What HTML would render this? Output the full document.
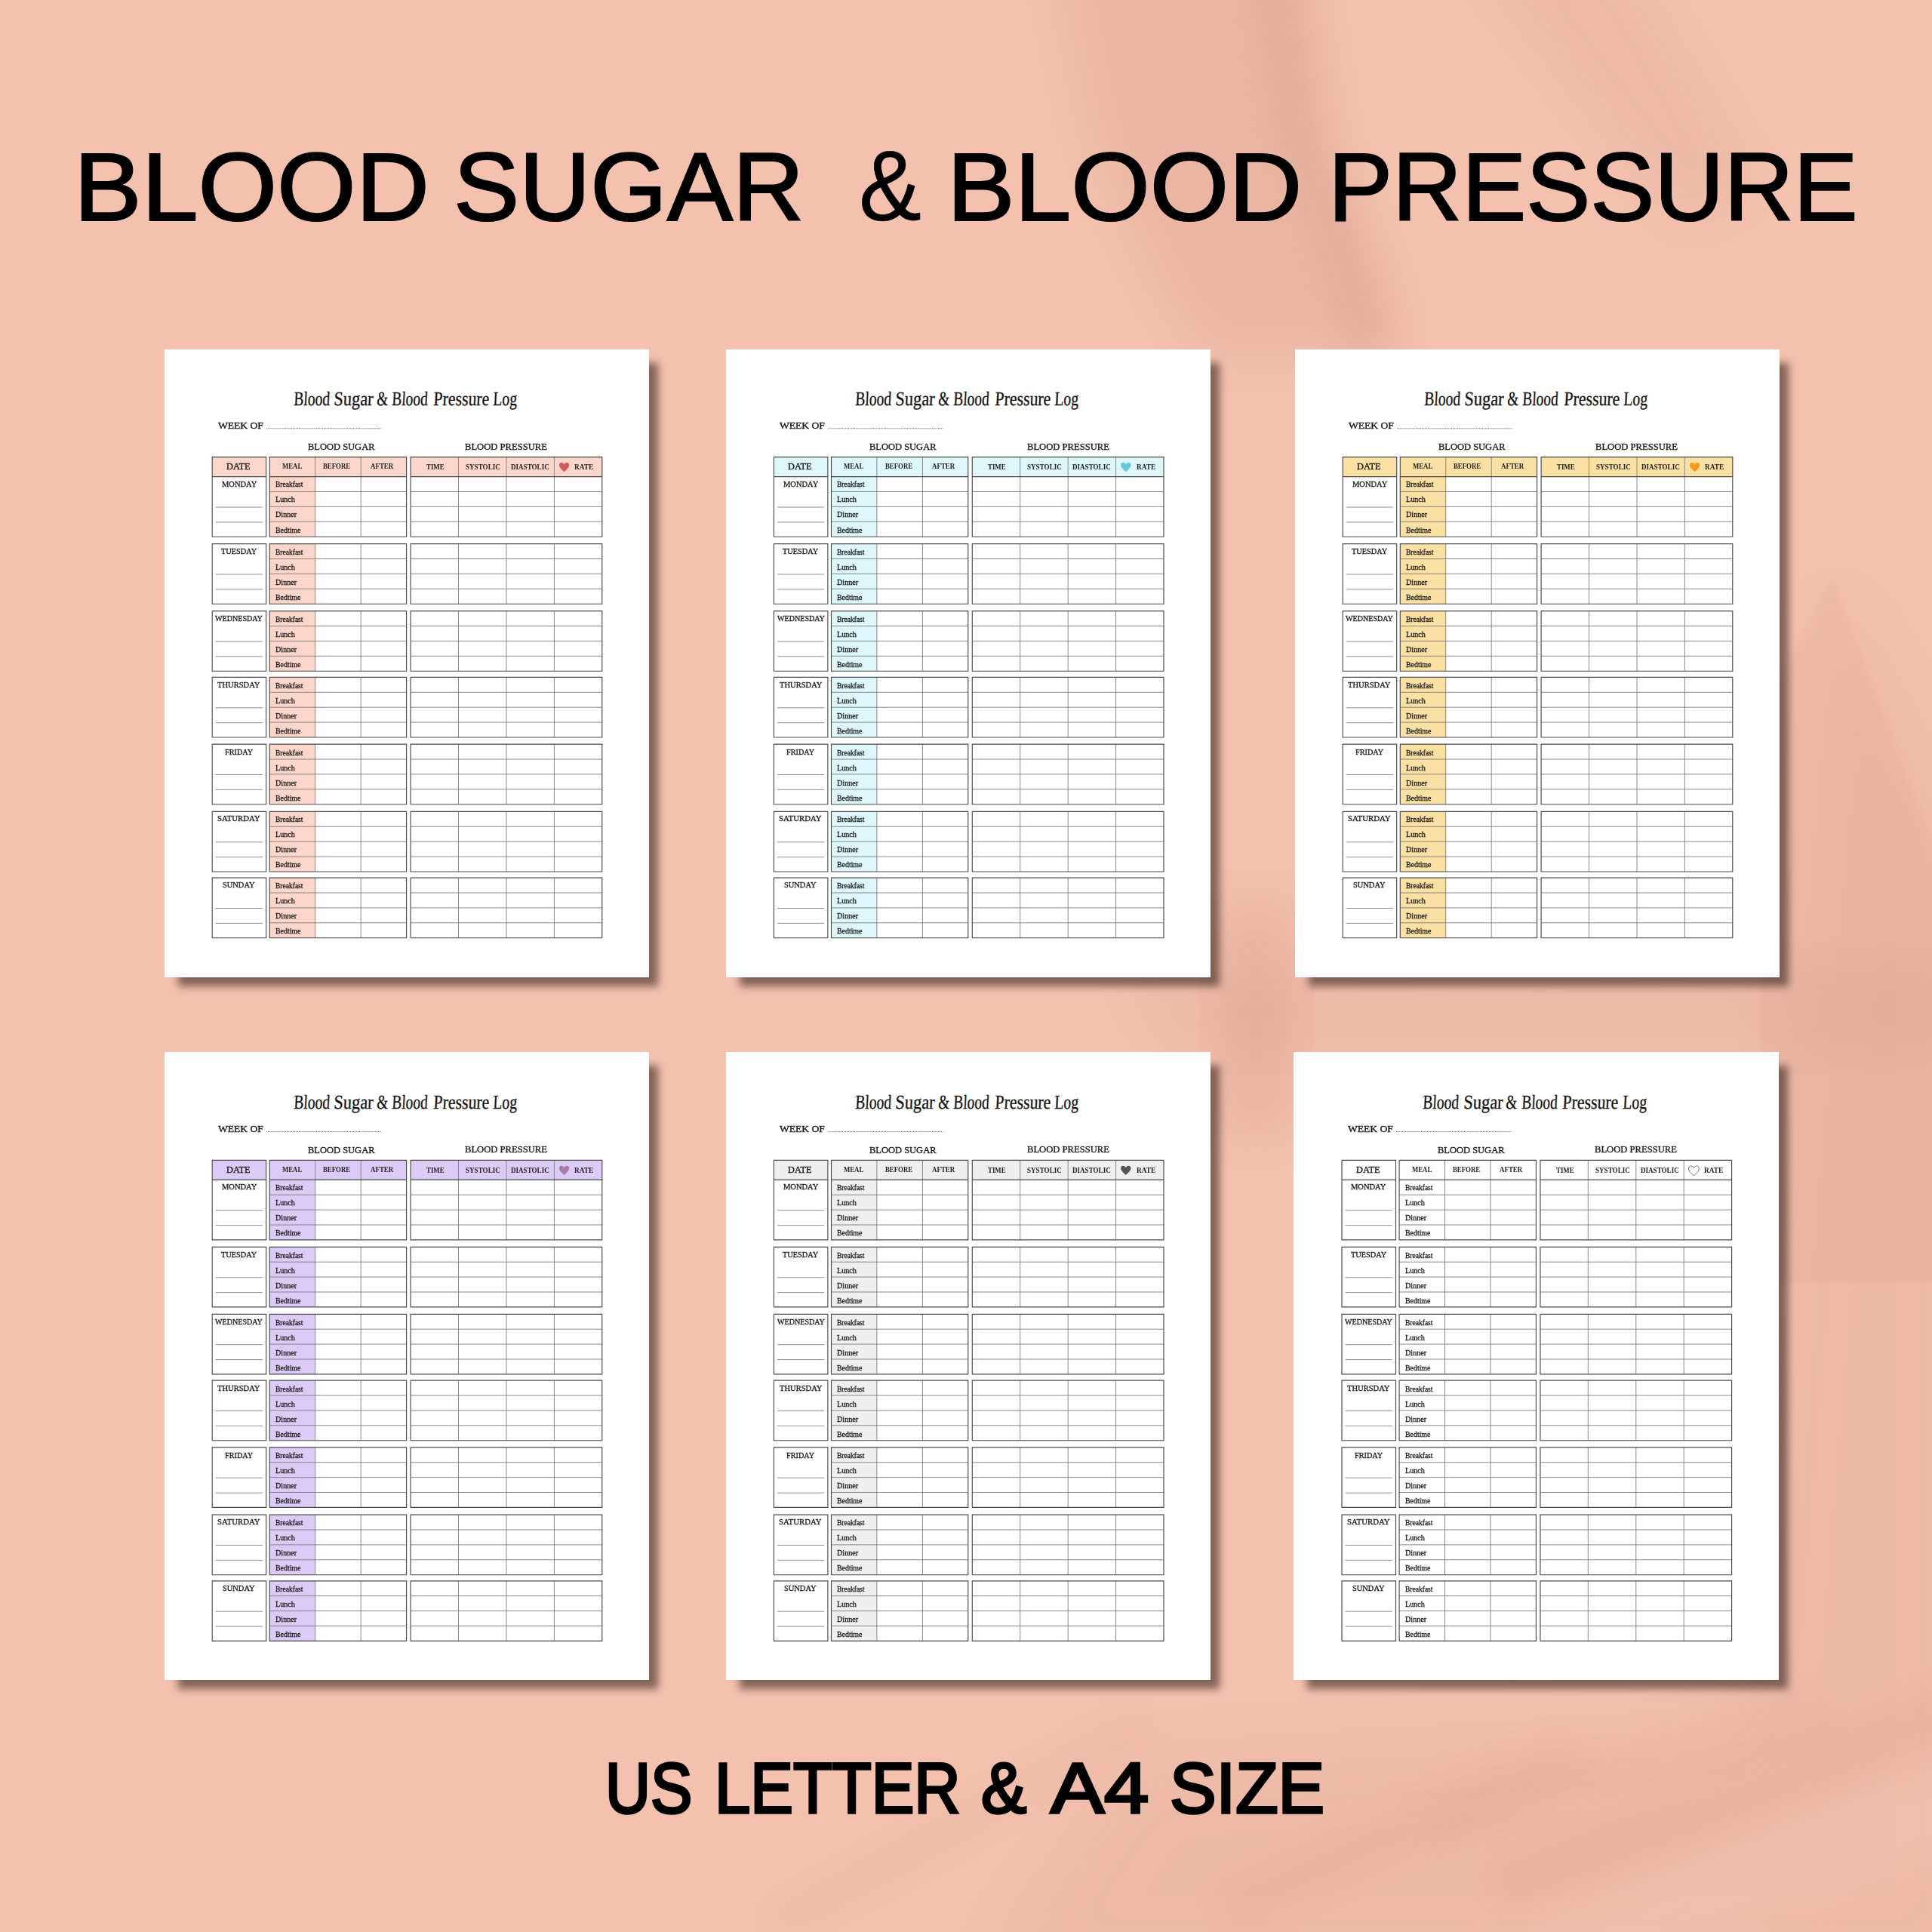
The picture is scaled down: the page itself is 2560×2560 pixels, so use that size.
<!DOCTYPE html><html><head><meta charset="utf-8"><title>Blood Sugar &amp; Blood Pressure Log</title><style>
html,body{margin:0;padding:0}
body{width:2560px;height:2560px;position:relative;overflow:hidden;background:#f4c1af;font-family:"Liberation Serif",serif}
.t{position:absolute;white-space:pre;line-height:1;transform-origin:0 0;color:#1a1a1a;font-family:"Liberation Serif",serif}
.big{font-family:"Liberation Sans",sans-serif;color:#000}
.page{position:absolute;width:642px;height:832px;background:#fff;overflow:visible;box-shadow:14.5px 14.5px 10px -3px rgba(20,5,0,.5)}
.pg{position:absolute;left:0;top:0}
.ti{color:#111}
.h{color:#222}

</style></head><body>
<svg class="bg" width="2560" height="2560" viewBox="0 0 2560 2560" style="position:absolute;left:0;top:0">
<defs><filter id="b1" x="-20%" y="-20%" width="140%" height="140%"><feGaussianBlur stdDeviation="32"/></filter>
<filter id="b2" x="-20%" y="-20%" width="140%" height="140%"><feGaussianBlur stdDeviation="45"/></filter>
<filter id="b4" x="-20%" y="-20%" width="140%" height="140%"><feGaussianBlur stdDeviation="5"/></filter>
<filter id="b3" x="-20%" y="-20%" width="140%" height="140%"><feGaussianBlur stdDeviation="20"/></filter></defs>
<g fill="#8a4632">
<path filter="url(#b1)" opacity=".085" d="M1400 -60L1725 -60L1760 186L1830 373L1850 470L1600 470L1535 373L1450 186Z"/>
<path filter="url(#b3)" opacity=".075" d="M1650 -60L1725 -60L1760 186L1830 373L1850 470L1780 470L1760 373L1690 186Z"/>
<path filter="url(#b1)" opacity=".06" d="M1950 -60L2150 -60L2330 250L2230 300Z"/>
<path filter="url(#b4)" opacity=".045" d="M2427 764L2600 1223L2600 1700L2330 1700L2330 960Z"/>
<path filter="url(#b2)" opacity=".06" d="M2425 760L2620 1140L2620 2620L1300 2620L1500 2330L2300 2280L2380 1300Z"/>
<path filter="url(#b1)" opacity=".05" d="M1480 1290L2600 1270L2600 1400L1560 1400Z"/>
<path filter="url(#b1)" opacity=".10" d="M1610 1200L1720 1200L1720 1500L1610 1500Z"/>
<path filter="url(#b3)" opacity=".05" d="M2600 2225L2600 2300L2000 2530L1960 2475Z"/>
<path filter="url(#b3)" opacity=".035" d="M2400 2235L2440 2290L1900 2450L1880 2400Z"/>
<path filter="url(#b3)" opacity=".04" d="M2070 2290L2110 2345L1640 2560L1600 2505Z"/>
<path filter="url(#b3)" opacity=".035" d="M1500 2260L1540 2300L1060 2560L1000 2540Z"/>
</g>
<g fill="#fbd2c3">
<path filter="url(#b1)" opacity=".25" d="M2620 2330L2620 2430L2100 2620L1900 2620Z"/>
</g>
</svg>
<span class="t big" style="left:97.74px;top:182.55px;font-size:128.7px;transform:scaleX(1.0450);-webkit-text-stroke:2.2px;">BLOOD</span>
<span class="t big" style="left:601.22px;top:182.55px;font-size:128.7px;transform:scaleX(1.0145);-webkit-text-stroke:2.2px;">SUGAR</span>
<span class="t big" style="left:1137.55px;top:181.39px;font-size:131.01px;transform:scaleX(0.9482);-webkit-text-stroke:0.6px;">&amp;</span>
<span class="t big" style="left:1255.15px;top:182.55px;font-size:128.7px;transform:scaleX(1.0441);-webkit-text-stroke:2.2px;">BLOOD</span>
<span class="t big" style="left:1760.1px;top:182.55px;font-size:128.7px;transform:scaleX(0.9909);-webkit-text-stroke:2.2px;">PRESSURE</span>
<span class="t big" style="left:801.68px;top:2321.61px;font-size:94.78px;transform:scaleX(0.8749);-webkit-text-stroke:3.6px;">US</span>
<span class="t big" style="left:946.5px;top:2321.61px;font-size:94.78px;transform:scaleX(0.8964);-webkit-text-stroke:3.6px;">LETTER</span>
<span class="t big" style="left:1300.44px;top:2321.61px;font-size:94.78px;transform:scaleX(0.9538);-webkit-text-stroke:3.6px;">&amp;</span>
<span class="t big" style="left:1391.6px;top:2321.61px;font-size:94.78px;transform:scaleX(1.1251);-webkit-text-stroke:3.6px;">A4</span>
<span class="t big" style="left:1550.25px;top:2321.61px;font-size:94.78px;transform:scaleX(0.9735);-webkit-text-stroke:3.6px;">SIZE</span>
<div class="page" style="left:218px;top:463px">
<svg class="pg" width="642" height="832" viewBox="0 0 642 832"><g transform="translate(-0.5 0)"><g fill="#fcd6cb"><rect x="63.7" y="142.6" width="71.5" height="26"/><rect x="139.8" y="142.6" width="181.3" height="26"/><rect x="326.6" y="142.6" width="253.7" height="26"/><rect x="139.8" y="168.6" width="60.4" height="79.6"/><rect x="139.8" y="257.6" width="60.4" height="79.6"/><rect x="139.8" y="346.6" width="60.4" height="79.6"/><rect x="139.8" y="434.4" width="60.4" height="79.6"/><rect x="139.8" y="523.1" width="60.4" height="79.6"/><rect x="139.8" y="612.4" width="60.4" height="79.6"/><rect x="139.8" y="700.1" width="60.4" height="79.6"/></g><path d="M139.8 188.5H321.1M326.6 188.5H580.3M139.8 208.4H321.1M326.6 208.4H580.3M139.8 228.3H321.1M326.6 228.3H580.3M200.2 142.6V248.2M260.7 142.6V248.2M390 142.6V248.2M453.5 142.6V248.2M516.9 142.6V248.2M139.8 277.5H321.1M326.6 277.5H580.3M139.8 297.4H321.1M326.6 297.4H580.3M139.8 317.3H321.1M326.6 317.3H580.3M200.2 257.6V337.2M260.7 257.6V337.2M390 257.6V337.2M453.5 257.6V337.2M516.9 257.6V337.2M139.8 366.5H321.1M326.6 366.5H580.3M139.8 386.4H321.1M326.6 386.4H580.3M139.8 406.3H321.1M326.6 406.3H580.3M200.2 346.6V426.2M260.7 346.6V426.2M390 346.6V426.2M453.5 346.6V426.2M516.9 346.6V426.2M139.8 454.3H321.1M326.6 454.3H580.3M139.8 474.2H321.1M326.6 474.2H580.3M139.8 494.1H321.1M326.6 494.1H580.3M200.2 434.4V514M260.7 434.4V514M390 434.4V514M453.5 434.4V514M516.9 434.4V514M139.8 543H321.1M326.6 543H580.3M139.8 562.9H321.1M326.6 562.9H580.3M139.8 582.8H321.1M326.6 582.8H580.3M200.2 523.1V602.7M260.7 523.1V602.7M390 523.1V602.7M453.5 523.1V602.7M516.9 523.1V602.7M139.8 632.3H321.1M326.6 632.3H580.3M139.8 652.2H321.1M326.6 652.2H580.3M139.8 672.1H321.1M326.6 672.1H580.3M200.2 612.4V692M260.7 612.4V692M390 612.4V692M453.5 612.4V692M516.9 612.4V692M139.8 720H321.1M326.6 720H580.3M139.8 739.9H321.1M326.6 739.9H580.3M139.8 759.8H321.1M326.6 759.8H580.3M200.2 700.1V779.7M260.7 700.1V779.7M390 700.1V779.7M453.5 700.1V779.7M516.9 700.1V779.7" stroke="#7d7d7d" stroke-width="0.9" fill="none"/><path d="M68.2 209H130.6M68.2 228.9H130.6M68.2 298H130.6M68.2 317.9H130.6M68.2 387H130.6M68.2 406.9H130.6M68.2 474.8H130.6M68.2 494.7H130.6M68.2 563.5H130.6M68.2 583.4H130.6M68.2 652.8H130.6M68.2 672.7H130.6M68.2 740.5H130.6M68.2 760.4H130.6" stroke="#858585" stroke-width="0.9" fill="none"/><path d="M63.7 142.6H135.2V248.2H63.7ZM63.7 168.6H135.2M139.8 142.6H321.1V248.2H139.8ZM139.8 168.6H321.1M326.6 142.6H580.3V248.2H326.6ZM326.6 168.6H580.3M63.7 257.6H135.2V337.2H63.7ZM139.8 257.6H321.1V337.2H139.8ZM326.6 257.6H580.3V337.2H326.6ZM63.7 346.6H135.2V426.2H63.7ZM139.8 346.6H321.1V426.2H139.8ZM326.6 346.6H580.3V426.2H326.6ZM63.7 434.4H135.2V514H63.7ZM139.8 434.4H321.1V514H139.8ZM326.6 434.4H580.3V514H326.6ZM63.7 523.1H135.2V602.7H63.7ZM139.8 523.1H321.1V602.7H139.8ZM326.6 523.1H580.3V602.7H326.6ZM63.7 612.4H135.2V692H63.7ZM139.8 612.4H321.1V692H139.8ZM326.6 612.4H580.3V692H326.6ZM63.7 700.1H135.2V779.7H63.7ZM139.8 700.1H321.1V779.7H139.8ZM326.6 700.1H580.3V779.7H326.6Z" stroke="#4a4a4a" stroke-width="1.15" fill="none"/><path d="M135.7 104.8H288" stroke="#555" stroke-width="1" stroke-dasharray="1 1.05" fill="none"/><path transform="translate(530.1 156.2)" d="M0 -3.6C-.95 -5.5 -2.5 -6.15 -3.8 -6.15C-5.6 -6.15 -6.65 -4.7 -6.65 -2.95C-6.65 .7 -2.5 3.2 0 6.15C2.5 3.2 6.65 .7 6.65 -2.95C6.65 -4.7 5.6 -6.15 3.8 -6.15C2.5 -6.15 .95 -5.5 0 -3.6Z" fill="#d2595c"/></g></svg>
<span class="t ti" style="left:170.66px;top:53.05px;font-size:26.11px;transform:skewX(-3deg) scaleX(0.7486);transform-origin:0 21.8px;-webkit-text-stroke:0.3px;">Blood</span><span class="t ti" style="left:224.09px;top:53.05px;font-size:26.11px;transform:skewX(-3deg) scaleX(0.8576);transform-origin:0 21.8px;-webkit-text-stroke:0.3px;">Sugar</span><span class="t ti" style="left:280.69px;top:53.05px;font-size:26.11px;transform:skewX(-3deg) scaleX(0.7288);transform-origin:0 21.8px;-webkit-text-stroke:0.3px;">&amp;</span><span class="t ti" style="left:301.17px;top:53.05px;font-size:26.11px;transform:skewX(-3deg) scaleX(0.7422);transform-origin:0 21.8px;-webkit-text-stroke:0.3px;">Blood</span><span class="t ti" style="left:355.59px;top:53.05px;font-size:26.11px;transform:skewX(-3deg) scaleX(0.8364);transform-origin:0 21.8px;-webkit-text-stroke:0.3px;">Pressure</span><span class="t ti" style="left:434.86px;top:53.05px;font-size:26.11px;transform:skewX(-3deg) scaleX(0.7563);transform-origin:0 21.8px;-webkit-text-stroke:0.3px;">Log</span><span class="t b" style="left:71.08px;top:94.99px;font-size:12.14px;transform:scaleX(1.1183);-webkit-text-stroke:0.35px;">WEEK OF</span><span class="t b" style="left:190.1px;top:122.88px;font-size:12.75px;transform:scaleX(0.9797);-webkit-text-stroke:0.35px;">BLOOD SUGAR</span><span class="t b" style="left:398.4px;top:122.58px;font-size:12.75px;transform:scaleX(0.9892);-webkit-text-stroke:0.35px;">BLOOD PRESSURE</span><span class="t b" style="left:82.11px;top:150.3px;font-size:11.53px;transform:scaleX(1.0673);-webkit-text-stroke:0.35px;">DATE</span><span class="t h" style="left:156.07px;top:150.01px;font-size:9.92px;font-weight:700;transform:scaleX(0.8828);">MEAL</span><span class="t h" style="left:210.37px;top:150.01px;font-size:9.92px;font-weight:700;transform:scaleX(0.8869);">BEFORE</span><span class="t h" style="left:272.61px;top:150.01px;font-size:9.92px;font-weight:700;transform:scaleX(0.9020);">AFTER</span><span class="t h" style="left:346.87px;top:150.81px;font-size:9.92px;font-weight:700;transform:scaleX(0.8914);">TIME</span><span class="t h" style="left:398.9px;top:150.81px;font-size:9.92px;font-weight:700;transform:scaleX(0.9174);">SYSTOLIC</span><span class="t h" style="left:458.86px;top:150.81px;font-size:9.92px;font-weight:700;transform:scaleX(0.9153);">DIASTOLIC</span><span class="t h" style="left:543.36px;top:150.81px;font-size:9.92px;font-weight:700;transform:scaleX(0.9446);">RATE</span><span class="t d" style="left:75.53px;top:172.75px;font-size:10.84px;transform:scaleX(0.9692);-webkit-text-stroke:0.3px;">MONDAY</span><span class="t m" style="left:147.06px;top:173.38px;font-size:10.69px;transform:scaleX(0.8901);-webkit-text-stroke:0.3px;">Breakfast</span><span class="t m" style="left:147.05px;top:193.43px;font-size:10.69px;transform:scaleX(0.9506);-webkit-text-stroke:0.3px;">Lunch</span><span class="t m" style="left:147.05px;top:213.48px;font-size:10.69px;transform:scaleX(0.9494);-webkit-text-stroke:0.3px;">Dinner</span><span class="t m" style="left:147.05px;top:233.53px;font-size:10.69px;transform:scaleX(0.9231);-webkit-text-stroke:0.3px;">Bedtime</span><span class="t d" style="left:75.14px;top:262.35px;font-size:10.84px;transform:scaleX(0.9510);-webkit-text-stroke:0.3px;">TUESDAY</span><span class="t m" style="left:147.06px;top:262.98px;font-size:10.69px;transform:scaleX(0.8901);-webkit-text-stroke:0.3px;">Breakfast</span><span class="t m" style="left:147.05px;top:283.03px;font-size:10.69px;transform:scaleX(0.9506);-webkit-text-stroke:0.3px;">Lunch</span><span class="t m" style="left:147.05px;top:303.08px;font-size:10.69px;transform:scaleX(0.9494);-webkit-text-stroke:0.3px;">Dinner</span><span class="t m" style="left:147.05px;top:323.13px;font-size:10.69px;transform:scaleX(0.9231);-webkit-text-stroke:0.3px;">Bedtime</span><span class="t d" style="left:67.35px;top:351.25px;font-size:10.84px;transform:scaleX(0.9307);-webkit-text-stroke:0.3px;">WEDNESDAY</span><span class="t m" style="left:147.06px;top:351.88px;font-size:10.69px;transform:scaleX(0.8901);-webkit-text-stroke:0.3px;">Breakfast</span><span class="t m" style="left:147.05px;top:371.93px;font-size:10.69px;transform:scaleX(0.9506);-webkit-text-stroke:0.3px;">Lunch</span><span class="t m" style="left:147.05px;top:391.98px;font-size:10.69px;transform:scaleX(0.9494);-webkit-text-stroke:0.3px;">Dinner</span><span class="t m" style="left:147.05px;top:412.03px;font-size:10.69px;transform:scaleX(0.9231);-webkit-text-stroke:0.3px;">Bedtime</span><span class="t d" style="left:70.49px;top:439.35px;font-size:10.84px;transform:scaleX(0.9738);-webkit-text-stroke:0.3px;">THURSDAY</span><span class="t m" style="left:147.06px;top:439.98px;font-size:10.69px;transform:scaleX(0.8901);-webkit-text-stroke:0.3px;">Breakfast</span><span class="t m" style="left:147.05px;top:460.03px;font-size:10.69px;transform:scaleX(0.9506);-webkit-text-stroke:0.3px;">Lunch</span><span class="t m" style="left:147.05px;top:480.08px;font-size:10.69px;transform:scaleX(0.9494);-webkit-text-stroke:0.3px;">Dinner</span><span class="t m" style="left:147.05px;top:500.13px;font-size:10.69px;transform:scaleX(0.9231);-webkit-text-stroke:0.3px;">Bedtime</span><span class="t d" style="left:80.09px;top:527.95px;font-size:10.84px;transform:scaleX(0.9445);-webkit-text-stroke:0.3px;">FRIDAY</span><span class="t m" style="left:147.06px;top:528.58px;font-size:10.69px;transform:scaleX(0.8901);-webkit-text-stroke:0.3px;">Breakfast</span><span class="t m" style="left:147.05px;top:548.63px;font-size:10.69px;transform:scaleX(0.9506);-webkit-text-stroke:0.3px;">Lunch</span><span class="t m" style="left:147.05px;top:568.68px;font-size:10.69px;transform:scaleX(0.9494);-webkit-text-stroke:0.3px;">Dinner</span><span class="t m" style="left:147.05px;top:588.73px;font-size:10.69px;transform:scaleX(0.9231);-webkit-text-stroke:0.3px;">Bedtime</span><span class="t d" style="left:70.2px;top:616.35px;font-size:10.84px;transform:scaleX(0.9960);-webkit-text-stroke:0.3px;">SATURDAY</span><span class="t m" style="left:147.06px;top:616.98px;font-size:10.69px;transform:scaleX(0.8901);-webkit-text-stroke:0.3px;">Breakfast</span><span class="t m" style="left:147.05px;top:637.03px;font-size:10.69px;transform:scaleX(0.9506);-webkit-text-stroke:0.3px;">Lunch</span><span class="t m" style="left:147.05px;top:657.08px;font-size:10.69px;transform:scaleX(0.9494);-webkit-text-stroke:0.3px;">Dinner</span><span class="t m" style="left:147.05px;top:677.13px;font-size:10.69px;transform:scaleX(0.9231);-webkit-text-stroke:0.3px;">Bedtime</span><span class="t d" style="left:77.22px;top:704.35px;font-size:10.84px;transform:scaleX(0.9630);-webkit-text-stroke:0.3px;">SUNDAY</span><span class="t m" style="left:147.06px;top:704.98px;font-size:10.69px;transform:scaleX(0.8901);-webkit-text-stroke:0.3px;">Breakfast</span><span class="t m" style="left:147.05px;top:725.03px;font-size:10.69px;transform:scaleX(0.9506);-webkit-text-stroke:0.3px;">Lunch</span><span class="t m" style="left:147.05px;top:745.08px;font-size:10.69px;transform:scaleX(0.9494);-webkit-text-stroke:0.3px;">Dinner</span><span class="t m" style="left:147.05px;top:765.13px;font-size:10.69px;transform:scaleX(0.9231);-webkit-text-stroke:0.3px;">Bedtime</span>
</div>
<div class="page" style="left:962px;top:463px">
<svg class="pg" width="642" height="832" viewBox="0 0 642 832"><g transform="translate(-0.3 0)"><g fill="#ddf7fb"><rect x="63.7" y="142.6" width="71.5" height="26"/><rect x="139.8" y="142.6" width="181.3" height="26"/><rect x="326.6" y="142.6" width="253.7" height="26"/><rect x="139.8" y="168.6" width="60.4" height="79.6"/><rect x="139.8" y="257.6" width="60.4" height="79.6"/><rect x="139.8" y="346.6" width="60.4" height="79.6"/><rect x="139.8" y="434.4" width="60.4" height="79.6"/><rect x="139.8" y="523.1" width="60.4" height="79.6"/><rect x="139.8" y="612.4" width="60.4" height="79.6"/><rect x="139.8" y="700.1" width="60.4" height="79.6"/></g><path d="M139.8 188.5H321.1M326.6 188.5H580.3M139.8 208.4H321.1M326.6 208.4H580.3M139.8 228.3H321.1M326.6 228.3H580.3M200.2 142.6V248.2M260.7 142.6V248.2M390 142.6V248.2M453.5 142.6V248.2M516.9 142.6V248.2M139.8 277.5H321.1M326.6 277.5H580.3M139.8 297.4H321.1M326.6 297.4H580.3M139.8 317.3H321.1M326.6 317.3H580.3M200.2 257.6V337.2M260.7 257.6V337.2M390 257.6V337.2M453.5 257.6V337.2M516.9 257.6V337.2M139.8 366.5H321.1M326.6 366.5H580.3M139.8 386.4H321.1M326.6 386.4H580.3M139.8 406.3H321.1M326.6 406.3H580.3M200.2 346.6V426.2M260.7 346.6V426.2M390 346.6V426.2M453.5 346.6V426.2M516.9 346.6V426.2M139.8 454.3H321.1M326.6 454.3H580.3M139.8 474.2H321.1M326.6 474.2H580.3M139.8 494.1H321.1M326.6 494.1H580.3M200.2 434.4V514M260.7 434.4V514M390 434.4V514M453.5 434.4V514M516.9 434.4V514M139.8 543H321.1M326.6 543H580.3M139.8 562.9H321.1M326.6 562.9H580.3M139.8 582.8H321.1M326.6 582.8H580.3M200.2 523.1V602.7M260.7 523.1V602.7M390 523.1V602.7M453.5 523.1V602.7M516.9 523.1V602.7M139.8 632.3H321.1M326.6 632.3H580.3M139.8 652.2H321.1M326.6 652.2H580.3M139.8 672.1H321.1M326.6 672.1H580.3M200.2 612.4V692M260.7 612.4V692M390 612.4V692M453.5 612.4V692M516.9 612.4V692M139.8 720H321.1M326.6 720H580.3M139.8 739.9H321.1M326.6 739.9H580.3M139.8 759.8H321.1M326.6 759.8H580.3M200.2 700.1V779.7M260.7 700.1V779.7M390 700.1V779.7M453.5 700.1V779.7M516.9 700.1V779.7" stroke="#7d7d7d" stroke-width="0.9" fill="none"/><path d="M68.2 209H130.6M68.2 228.9H130.6M68.2 298H130.6M68.2 317.9H130.6M68.2 387H130.6M68.2 406.9H130.6M68.2 474.8H130.6M68.2 494.7H130.6M68.2 563.5H130.6M68.2 583.4H130.6M68.2 652.8H130.6M68.2 672.7H130.6M68.2 740.5H130.6M68.2 760.4H130.6" stroke="#858585" stroke-width="0.9" fill="none"/><path d="M63.7 142.6H135.2V248.2H63.7ZM63.7 168.6H135.2M139.8 142.6H321.1V248.2H139.8ZM139.8 168.6H321.1M326.6 142.6H580.3V248.2H326.6ZM326.6 168.6H580.3M63.7 257.6H135.2V337.2H63.7ZM139.8 257.6H321.1V337.2H139.8ZM326.6 257.6H580.3V337.2H326.6ZM63.7 346.6H135.2V426.2H63.7ZM139.8 346.6H321.1V426.2H139.8ZM326.6 346.6H580.3V426.2H326.6ZM63.7 434.4H135.2V514H63.7ZM139.8 434.4H321.1V514H139.8ZM326.6 434.4H580.3V514H326.6ZM63.7 523.1H135.2V602.7H63.7ZM139.8 523.1H321.1V602.7H139.8ZM326.6 523.1H580.3V602.7H326.6ZM63.7 612.4H135.2V692H63.7ZM139.8 612.4H321.1V692H139.8ZM326.6 612.4H580.3V692H326.6ZM63.7 700.1H135.2V779.7H63.7ZM139.8 700.1H321.1V779.7H139.8ZM326.6 700.1H580.3V779.7H326.6Z" stroke="#4a4a4a" stroke-width="1.15" fill="none"/><path d="M135.7 104.8H288" stroke="#555" stroke-width="1" stroke-dasharray="1 1.05" fill="none"/><path transform="translate(530.1 156.2)" d="M0 -3.6C-.95 -5.5 -2.5 -6.15 -3.8 -6.15C-5.6 -6.15 -6.65 -4.7 -6.65 -2.95C-6.65 .7 -2.5 3.2 0 6.15C2.5 3.2 6.65 .7 6.65 -2.95C6.65 -4.7 5.6 -6.15 3.8 -6.15C2.5 -6.15 .95 -5.5 0 -3.6Z" fill="#66c6da"/></g></svg>
<span class="t ti" style="left:170.86px;top:53.05px;font-size:26.11px;transform:skewX(-3deg) scaleX(0.7486);transform-origin:0 21.8px;-webkit-text-stroke:0.3px;">Blood</span><span class="t ti" style="left:224.29px;top:53.05px;font-size:26.11px;transform:skewX(-3deg) scaleX(0.8576);transform-origin:0 21.8px;-webkit-text-stroke:0.3px;">Sugar</span><span class="t ti" style="left:280.89px;top:53.05px;font-size:26.11px;transform:skewX(-3deg) scaleX(0.7288);transform-origin:0 21.8px;-webkit-text-stroke:0.3px;">&amp;</span><span class="t ti" style="left:301.37px;top:53.05px;font-size:26.11px;transform:skewX(-3deg) scaleX(0.7422);transform-origin:0 21.8px;-webkit-text-stroke:0.3px;">Blood</span><span class="t ti" style="left:355.79px;top:53.05px;font-size:26.11px;transform:skewX(-3deg) scaleX(0.8364);transform-origin:0 21.8px;-webkit-text-stroke:0.3px;">Pressure</span><span class="t ti" style="left:435.06px;top:53.05px;font-size:26.11px;transform:skewX(-3deg) scaleX(0.7563);transform-origin:0 21.8px;-webkit-text-stroke:0.3px;">Log</span><span class="t b" style="left:71.28px;top:94.99px;font-size:12.14px;transform:scaleX(1.1183);-webkit-text-stroke:0.35px;">WEEK OF</span><span class="t b" style="left:190.3px;top:122.88px;font-size:12.75px;transform:scaleX(0.9797);-webkit-text-stroke:0.35px;">BLOOD SUGAR</span><span class="t b" style="left:398.6px;top:122.58px;font-size:12.75px;transform:scaleX(0.9892);-webkit-text-stroke:0.35px;">BLOOD PRESSURE</span><span class="t b" style="left:82.31px;top:150.3px;font-size:11.53px;transform:scaleX(1.0673);-webkit-text-stroke:0.35px;">DATE</span><span class="t h" style="left:156.27px;top:150.01px;font-size:9.92px;font-weight:700;transform:scaleX(0.8828);">MEAL</span><span class="t h" style="left:210.57px;top:150.01px;font-size:9.92px;font-weight:700;transform:scaleX(0.8869);">BEFORE</span><span class="t h" style="left:272.81px;top:150.01px;font-size:9.92px;font-weight:700;transform:scaleX(0.9020);">AFTER</span><span class="t h" style="left:347.07px;top:150.81px;font-size:9.92px;font-weight:700;transform:scaleX(0.8914);">TIME</span><span class="t h" style="left:399.1px;top:150.81px;font-size:9.92px;font-weight:700;transform:scaleX(0.9174);">SYSTOLIC</span><span class="t h" style="left:459.06px;top:150.81px;font-size:9.92px;font-weight:700;transform:scaleX(0.9153);">DIASTOLIC</span><span class="t h" style="left:543.56px;top:150.81px;font-size:9.92px;font-weight:700;transform:scaleX(0.9446);">RATE</span><span class="t d" style="left:75.73px;top:172.75px;font-size:10.84px;transform:scaleX(0.9692);-webkit-text-stroke:0.3px;">MONDAY</span><span class="t m" style="left:147.26px;top:173.38px;font-size:10.69px;transform:scaleX(0.8901);-webkit-text-stroke:0.3px;">Breakfast</span><span class="t m" style="left:147.25px;top:193.43px;font-size:10.69px;transform:scaleX(0.9506);-webkit-text-stroke:0.3px;">Lunch</span><span class="t m" style="left:147.25px;top:213.48px;font-size:10.69px;transform:scaleX(0.9494);-webkit-text-stroke:0.3px;">Dinner</span><span class="t m" style="left:147.25px;top:233.53px;font-size:10.69px;transform:scaleX(0.9231);-webkit-text-stroke:0.3px;">Bedtime</span><span class="t d" style="left:75.34px;top:262.35px;font-size:10.84px;transform:scaleX(0.9510);-webkit-text-stroke:0.3px;">TUESDAY</span><span class="t m" style="left:147.26px;top:262.98px;font-size:10.69px;transform:scaleX(0.8901);-webkit-text-stroke:0.3px;">Breakfast</span><span class="t m" style="left:147.25px;top:283.03px;font-size:10.69px;transform:scaleX(0.9506);-webkit-text-stroke:0.3px;">Lunch</span><span class="t m" style="left:147.25px;top:303.08px;font-size:10.69px;transform:scaleX(0.9494);-webkit-text-stroke:0.3px;">Dinner</span><span class="t m" style="left:147.25px;top:323.13px;font-size:10.69px;transform:scaleX(0.9231);-webkit-text-stroke:0.3px;">Bedtime</span><span class="t d" style="left:67.55px;top:351.25px;font-size:10.84px;transform:scaleX(0.9307);-webkit-text-stroke:0.3px;">WEDNESDAY</span><span class="t m" style="left:147.26px;top:351.88px;font-size:10.69px;transform:scaleX(0.8901);-webkit-text-stroke:0.3px;">Breakfast</span><span class="t m" style="left:147.25px;top:371.93px;font-size:10.69px;transform:scaleX(0.9506);-webkit-text-stroke:0.3px;">Lunch</span><span class="t m" style="left:147.25px;top:391.98px;font-size:10.69px;transform:scaleX(0.9494);-webkit-text-stroke:0.3px;">Dinner</span><span class="t m" style="left:147.25px;top:412.03px;font-size:10.69px;transform:scaleX(0.9231);-webkit-text-stroke:0.3px;">Bedtime</span><span class="t d" style="left:70.69px;top:439.35px;font-size:10.84px;transform:scaleX(0.9738);-webkit-text-stroke:0.3px;">THURSDAY</span><span class="t m" style="left:147.26px;top:439.98px;font-size:10.69px;transform:scaleX(0.8901);-webkit-text-stroke:0.3px;">Breakfast</span><span class="t m" style="left:147.25px;top:460.03px;font-size:10.69px;transform:scaleX(0.9506);-webkit-text-stroke:0.3px;">Lunch</span><span class="t m" style="left:147.25px;top:480.08px;font-size:10.69px;transform:scaleX(0.9494);-webkit-text-stroke:0.3px;">Dinner</span><span class="t m" style="left:147.25px;top:500.13px;font-size:10.69px;transform:scaleX(0.9231);-webkit-text-stroke:0.3px;">Bedtime</span><span class="t d" style="left:80.29px;top:527.95px;font-size:10.84px;transform:scaleX(0.9445);-webkit-text-stroke:0.3px;">FRIDAY</span><span class="t m" style="left:147.26px;top:528.58px;font-size:10.69px;transform:scaleX(0.8901);-webkit-text-stroke:0.3px;">Breakfast</span><span class="t m" style="left:147.25px;top:548.63px;font-size:10.69px;transform:scaleX(0.9506);-webkit-text-stroke:0.3px;">Lunch</span><span class="t m" style="left:147.25px;top:568.68px;font-size:10.69px;transform:scaleX(0.9494);-webkit-text-stroke:0.3px;">Dinner</span><span class="t m" style="left:147.25px;top:588.73px;font-size:10.69px;transform:scaleX(0.9231);-webkit-text-stroke:0.3px;">Bedtime</span><span class="t d" style="left:70.4px;top:616.35px;font-size:10.84px;transform:scaleX(0.9960);-webkit-text-stroke:0.3px;">SATURDAY</span><span class="t m" style="left:147.26px;top:616.98px;font-size:10.69px;transform:scaleX(0.8901);-webkit-text-stroke:0.3px;">Breakfast</span><span class="t m" style="left:147.25px;top:637.03px;font-size:10.69px;transform:scaleX(0.9506);-webkit-text-stroke:0.3px;">Lunch</span><span class="t m" style="left:147.25px;top:657.08px;font-size:10.69px;transform:scaleX(0.9494);-webkit-text-stroke:0.3px;">Dinner</span><span class="t m" style="left:147.25px;top:677.13px;font-size:10.69px;transform:scaleX(0.9231);-webkit-text-stroke:0.3px;">Bedtime</span><span class="t d" style="left:77.42px;top:704.35px;font-size:10.84px;transform:scaleX(0.9630);-webkit-text-stroke:0.3px;">SUNDAY</span><span class="t m" style="left:147.26px;top:704.98px;font-size:10.69px;transform:scaleX(0.8901);-webkit-text-stroke:0.3px;">Breakfast</span><span class="t m" style="left:147.25px;top:725.03px;font-size:10.69px;transform:scaleX(0.9506);-webkit-text-stroke:0.3px;">Lunch</span><span class="t m" style="left:147.25px;top:745.08px;font-size:10.69px;transform:scaleX(0.9494);-webkit-text-stroke:0.3px;">Dinner</span><span class="t m" style="left:147.25px;top:765.13px;font-size:10.69px;transform:scaleX(0.9231);-webkit-text-stroke:0.3px;">Bedtime</span>
</div>
<div class="page" style="left:1716px;top:463px">
<svg class="pg" width="642" height="832" viewBox="0 0 642 832"><g transform="translate(-0.5 0)"><g fill="#fbe0a3"><rect x="63.7" y="142.6" width="71.5" height="26"/><rect x="139.8" y="142.6" width="181.3" height="26"/><rect x="326.6" y="142.6" width="253.7" height="26"/><rect x="139.8" y="168.6" width="60.4" height="79.6"/><rect x="139.8" y="257.6" width="60.4" height="79.6"/><rect x="139.8" y="346.6" width="60.4" height="79.6"/><rect x="139.8" y="434.4" width="60.4" height="79.6"/><rect x="139.8" y="523.1" width="60.4" height="79.6"/><rect x="139.8" y="612.4" width="60.4" height="79.6"/><rect x="139.8" y="700.1" width="60.4" height="79.6"/></g><path d="M139.8 188.5H321.1M326.6 188.5H580.3M139.8 208.4H321.1M326.6 208.4H580.3M139.8 228.3H321.1M326.6 228.3H580.3M200.2 142.6V248.2M260.7 142.6V248.2M390 142.6V248.2M453.5 142.6V248.2M516.9 142.6V248.2M139.8 277.5H321.1M326.6 277.5H580.3M139.8 297.4H321.1M326.6 297.4H580.3M139.8 317.3H321.1M326.6 317.3H580.3M200.2 257.6V337.2M260.7 257.6V337.2M390 257.6V337.2M453.5 257.6V337.2M516.9 257.6V337.2M139.8 366.5H321.1M326.6 366.5H580.3M139.8 386.4H321.1M326.6 386.4H580.3M139.8 406.3H321.1M326.6 406.3H580.3M200.2 346.6V426.2M260.7 346.6V426.2M390 346.6V426.2M453.5 346.6V426.2M516.9 346.6V426.2M139.8 454.3H321.1M326.6 454.3H580.3M139.8 474.2H321.1M326.6 474.2H580.3M139.8 494.1H321.1M326.6 494.1H580.3M200.2 434.4V514M260.7 434.4V514M390 434.4V514M453.5 434.4V514M516.9 434.4V514M139.8 543H321.1M326.6 543H580.3M139.8 562.9H321.1M326.6 562.9H580.3M139.8 582.8H321.1M326.6 582.8H580.3M200.2 523.1V602.7M260.7 523.1V602.7M390 523.1V602.7M453.5 523.1V602.7M516.9 523.1V602.7M139.8 632.3H321.1M326.6 632.3H580.3M139.8 652.2H321.1M326.6 652.2H580.3M139.8 672.1H321.1M326.6 672.1H580.3M200.2 612.4V692M260.7 612.4V692M390 612.4V692M453.5 612.4V692M516.9 612.4V692M139.8 720H321.1M326.6 720H580.3M139.8 739.9H321.1M326.6 739.9H580.3M139.8 759.8H321.1M326.6 759.8H580.3M200.2 700.1V779.7M260.7 700.1V779.7M390 700.1V779.7M453.5 700.1V779.7M516.9 700.1V779.7" stroke="#7d7d7d" stroke-width="0.9" fill="none"/><path d="M68.2 209H130.6M68.2 228.9H130.6M68.2 298H130.6M68.2 317.9H130.6M68.2 387H130.6M68.2 406.9H130.6M68.2 474.8H130.6M68.2 494.7H130.6M68.2 563.5H130.6M68.2 583.4H130.6M68.2 652.8H130.6M68.2 672.7H130.6M68.2 740.5H130.6M68.2 760.4H130.6" stroke="#858585" stroke-width="0.9" fill="none"/><path d="M63.7 142.6H135.2V248.2H63.7ZM63.7 168.6H135.2M139.8 142.6H321.1V248.2H139.8ZM139.8 168.6H321.1M326.6 142.6H580.3V248.2H326.6ZM326.6 168.6H580.3M63.7 257.6H135.2V337.2H63.7ZM139.8 257.6H321.1V337.2H139.8ZM326.6 257.6H580.3V337.2H326.6ZM63.7 346.6H135.2V426.2H63.7ZM139.8 346.6H321.1V426.2H139.8ZM326.6 346.6H580.3V426.2H326.6ZM63.7 434.4H135.2V514H63.7ZM139.8 434.4H321.1V514H139.8ZM326.6 434.4H580.3V514H326.6ZM63.7 523.1H135.2V602.7H63.7ZM139.8 523.1H321.1V602.7H139.8ZM326.6 523.1H580.3V602.7H326.6ZM63.7 612.4H135.2V692H63.7ZM139.8 612.4H321.1V692H139.8ZM326.6 612.4H580.3V692H326.6ZM63.7 700.1H135.2V779.7H63.7ZM139.8 700.1H321.1V779.7H139.8ZM326.6 700.1H580.3V779.7H326.6Z" stroke="#4a4a4a" stroke-width="1.15" fill="none"/><path d="M135.7 104.8H288" stroke="#555" stroke-width="1" stroke-dasharray="1 1.05" fill="none"/><path transform="translate(530.1 156.2)" d="M0 -3.6C-.95 -5.5 -2.5 -6.15 -3.8 -6.15C-5.6 -6.15 -6.65 -4.7 -6.65 -2.95C-6.65 .7 -2.5 3.2 0 6.15C2.5 3.2 6.65 .7 6.65 -2.95C6.65 -4.7 5.6 -6.15 3.8 -6.15C2.5 -6.15 .95 -5.5 0 -3.6Z" fill="#f59b18"/></g></svg>
<span class="t ti" style="left:170.66px;top:53.05px;font-size:26.11px;transform:skewX(-3deg) scaleX(0.7486);transform-origin:0 21.8px;-webkit-text-stroke:0.3px;">Blood</span><span class="t ti" style="left:224.09px;top:53.05px;font-size:26.11px;transform:skewX(-3deg) scaleX(0.8576);transform-origin:0 21.8px;-webkit-text-stroke:0.3px;">Sugar</span><span class="t ti" style="left:280.69px;top:53.05px;font-size:26.11px;transform:skewX(-3deg) scaleX(0.7288);transform-origin:0 21.8px;-webkit-text-stroke:0.3px;">&amp;</span><span class="t ti" style="left:301.17px;top:53.05px;font-size:26.11px;transform:skewX(-3deg) scaleX(0.7422);transform-origin:0 21.8px;-webkit-text-stroke:0.3px;">Blood</span><span class="t ti" style="left:355.59px;top:53.05px;font-size:26.11px;transform:skewX(-3deg) scaleX(0.8364);transform-origin:0 21.8px;-webkit-text-stroke:0.3px;">Pressure</span><span class="t ti" style="left:434.86px;top:53.05px;font-size:26.11px;transform:skewX(-3deg) scaleX(0.7563);transform-origin:0 21.8px;-webkit-text-stroke:0.3px;">Log</span><span class="t b" style="left:71.08px;top:94.99px;font-size:12.14px;transform:scaleX(1.1183);-webkit-text-stroke:0.35px;">WEEK OF</span><span class="t b" style="left:190.1px;top:122.88px;font-size:12.75px;transform:scaleX(0.9797);-webkit-text-stroke:0.35px;">BLOOD SUGAR</span><span class="t b" style="left:398.4px;top:122.58px;font-size:12.75px;transform:scaleX(0.9892);-webkit-text-stroke:0.35px;">BLOOD PRESSURE</span><span class="t b" style="left:82.11px;top:150.3px;font-size:11.53px;transform:scaleX(1.0673);-webkit-text-stroke:0.35px;">DATE</span><span class="t h" style="left:156.07px;top:150.01px;font-size:9.92px;font-weight:700;transform:scaleX(0.8828);">MEAL</span><span class="t h" style="left:210.37px;top:150.01px;font-size:9.92px;font-weight:700;transform:scaleX(0.8869);">BEFORE</span><span class="t h" style="left:272.61px;top:150.01px;font-size:9.92px;font-weight:700;transform:scaleX(0.9020);">AFTER</span><span class="t h" style="left:346.87px;top:150.81px;font-size:9.92px;font-weight:700;transform:scaleX(0.8914);">TIME</span><span class="t h" style="left:398.9px;top:150.81px;font-size:9.92px;font-weight:700;transform:scaleX(0.9174);">SYSTOLIC</span><span class="t h" style="left:458.86px;top:150.81px;font-size:9.92px;font-weight:700;transform:scaleX(0.9153);">DIASTOLIC</span><span class="t h" style="left:543.36px;top:150.81px;font-size:9.92px;font-weight:700;transform:scaleX(0.9446);">RATE</span><span class="t d" style="left:75.53px;top:172.75px;font-size:10.84px;transform:scaleX(0.9692);-webkit-text-stroke:0.3px;">MONDAY</span><span class="t m" style="left:147.06px;top:173.38px;font-size:10.69px;transform:scaleX(0.8901);-webkit-text-stroke:0.3px;">Breakfast</span><span class="t m" style="left:147.05px;top:193.43px;font-size:10.69px;transform:scaleX(0.9506);-webkit-text-stroke:0.3px;">Lunch</span><span class="t m" style="left:147.05px;top:213.48px;font-size:10.69px;transform:scaleX(0.9494);-webkit-text-stroke:0.3px;">Dinner</span><span class="t m" style="left:147.05px;top:233.53px;font-size:10.69px;transform:scaleX(0.9231);-webkit-text-stroke:0.3px;">Bedtime</span><span class="t d" style="left:75.14px;top:262.35px;font-size:10.84px;transform:scaleX(0.9510);-webkit-text-stroke:0.3px;">TUESDAY</span><span class="t m" style="left:147.06px;top:262.98px;font-size:10.69px;transform:scaleX(0.8901);-webkit-text-stroke:0.3px;">Breakfast</span><span class="t m" style="left:147.05px;top:283.03px;font-size:10.69px;transform:scaleX(0.9506);-webkit-text-stroke:0.3px;">Lunch</span><span class="t m" style="left:147.05px;top:303.08px;font-size:10.69px;transform:scaleX(0.9494);-webkit-text-stroke:0.3px;">Dinner</span><span class="t m" style="left:147.05px;top:323.13px;font-size:10.69px;transform:scaleX(0.9231);-webkit-text-stroke:0.3px;">Bedtime</span><span class="t d" style="left:67.35px;top:351.25px;font-size:10.84px;transform:scaleX(0.9307);-webkit-text-stroke:0.3px;">WEDNESDAY</span><span class="t m" style="left:147.06px;top:351.88px;font-size:10.69px;transform:scaleX(0.8901);-webkit-text-stroke:0.3px;">Breakfast</span><span class="t m" style="left:147.05px;top:371.93px;font-size:10.69px;transform:scaleX(0.9506);-webkit-text-stroke:0.3px;">Lunch</span><span class="t m" style="left:147.05px;top:391.98px;font-size:10.69px;transform:scaleX(0.9494);-webkit-text-stroke:0.3px;">Dinner</span><span class="t m" style="left:147.05px;top:412.03px;font-size:10.69px;transform:scaleX(0.9231);-webkit-text-stroke:0.3px;">Bedtime</span><span class="t d" style="left:70.49px;top:439.35px;font-size:10.84px;transform:scaleX(0.9738);-webkit-text-stroke:0.3px;">THURSDAY</span><span class="t m" style="left:147.06px;top:439.98px;font-size:10.69px;transform:scaleX(0.8901);-webkit-text-stroke:0.3px;">Breakfast</span><span class="t m" style="left:147.05px;top:460.03px;font-size:10.69px;transform:scaleX(0.9506);-webkit-text-stroke:0.3px;">Lunch</span><span class="t m" style="left:147.05px;top:480.08px;font-size:10.69px;transform:scaleX(0.9494);-webkit-text-stroke:0.3px;">Dinner</span><span class="t m" style="left:147.05px;top:500.13px;font-size:10.69px;transform:scaleX(0.9231);-webkit-text-stroke:0.3px;">Bedtime</span><span class="t d" style="left:80.09px;top:527.95px;font-size:10.84px;transform:scaleX(0.9445);-webkit-text-stroke:0.3px;">FRIDAY</span><span class="t m" style="left:147.06px;top:528.58px;font-size:10.69px;transform:scaleX(0.8901);-webkit-text-stroke:0.3px;">Breakfast</span><span class="t m" style="left:147.05px;top:548.63px;font-size:10.69px;transform:scaleX(0.9506);-webkit-text-stroke:0.3px;">Lunch</span><span class="t m" style="left:147.05px;top:568.68px;font-size:10.69px;transform:scaleX(0.9494);-webkit-text-stroke:0.3px;">Dinner</span><span class="t m" style="left:147.05px;top:588.73px;font-size:10.69px;transform:scaleX(0.9231);-webkit-text-stroke:0.3px;">Bedtime</span><span class="t d" style="left:70.2px;top:616.35px;font-size:10.84px;transform:scaleX(0.9960);-webkit-text-stroke:0.3px;">SATURDAY</span><span class="t m" style="left:147.06px;top:616.98px;font-size:10.69px;transform:scaleX(0.8901);-webkit-text-stroke:0.3px;">Breakfast</span><span class="t m" style="left:147.05px;top:637.03px;font-size:10.69px;transform:scaleX(0.9506);-webkit-text-stroke:0.3px;">Lunch</span><span class="t m" style="left:147.05px;top:657.08px;font-size:10.69px;transform:scaleX(0.9494);-webkit-text-stroke:0.3px;">Dinner</span><span class="t m" style="left:147.05px;top:677.13px;font-size:10.69px;transform:scaleX(0.9231);-webkit-text-stroke:0.3px;">Bedtime</span><span class="t d" style="left:77.22px;top:704.35px;font-size:10.84px;transform:scaleX(0.9630);-webkit-text-stroke:0.3px;">SUNDAY</span><span class="t m" style="left:147.06px;top:704.98px;font-size:10.69px;transform:scaleX(0.8901);-webkit-text-stroke:0.3px;">Breakfast</span><span class="t m" style="left:147.05px;top:725.03px;font-size:10.69px;transform:scaleX(0.9506);-webkit-text-stroke:0.3px;">Lunch</span><span class="t m" style="left:147.05px;top:745.08px;font-size:10.69px;transform:scaleX(0.9494);-webkit-text-stroke:0.3px;">Dinner</span><span class="t m" style="left:147.05px;top:765.13px;font-size:10.69px;transform:scaleX(0.9231);-webkit-text-stroke:0.3px;">Bedtime</span>
</div>
<div class="page" style="left:218px;top:1394px">
<svg class="pg" width="642" height="832" viewBox="0 0 642 832"><g transform="translate(-0.5 0.7)"><g fill="#dccbf6"><rect x="63.7" y="142.6" width="71.5" height="26"/><rect x="139.8" y="142.6" width="181.3" height="26"/><rect x="326.6" y="142.6" width="253.7" height="26"/><rect x="139.8" y="168.6" width="60.4" height="79.6"/><rect x="139.8" y="257.6" width="60.4" height="79.6"/><rect x="139.8" y="346.6" width="60.4" height="79.6"/><rect x="139.8" y="434.4" width="60.4" height="79.6"/><rect x="139.8" y="523.1" width="60.4" height="79.6"/><rect x="139.8" y="612.4" width="60.4" height="79.6"/><rect x="139.8" y="700.1" width="60.4" height="79.6"/></g><path d="M139.8 188.5H321.1M326.6 188.5H580.3M139.8 208.4H321.1M326.6 208.4H580.3M139.8 228.3H321.1M326.6 228.3H580.3M200.2 142.6V248.2M260.7 142.6V248.2M390 142.6V248.2M453.5 142.6V248.2M516.9 142.6V248.2M139.8 277.5H321.1M326.6 277.5H580.3M139.8 297.4H321.1M326.6 297.4H580.3M139.8 317.3H321.1M326.6 317.3H580.3M200.2 257.6V337.2M260.7 257.6V337.2M390 257.6V337.2M453.5 257.6V337.2M516.9 257.6V337.2M139.8 366.5H321.1M326.6 366.5H580.3M139.8 386.4H321.1M326.6 386.4H580.3M139.8 406.3H321.1M326.6 406.3H580.3M200.2 346.6V426.2M260.7 346.6V426.2M390 346.6V426.2M453.5 346.6V426.2M516.9 346.6V426.2M139.8 454.3H321.1M326.6 454.3H580.3M139.8 474.2H321.1M326.6 474.2H580.3M139.8 494.1H321.1M326.6 494.1H580.3M200.2 434.4V514M260.7 434.4V514M390 434.4V514M453.5 434.4V514M516.9 434.4V514M139.8 543H321.1M326.6 543H580.3M139.8 562.9H321.1M326.6 562.9H580.3M139.8 582.8H321.1M326.6 582.8H580.3M200.2 523.1V602.7M260.7 523.1V602.7M390 523.1V602.7M453.5 523.1V602.7M516.9 523.1V602.7M139.8 632.3H321.1M326.6 632.3H580.3M139.8 652.2H321.1M326.6 652.2H580.3M139.8 672.1H321.1M326.6 672.1H580.3M200.2 612.4V692M260.7 612.4V692M390 612.4V692M453.5 612.4V692M516.9 612.4V692M139.8 720H321.1M326.6 720H580.3M139.8 739.9H321.1M326.6 739.9H580.3M139.8 759.8H321.1M326.6 759.8H580.3M200.2 700.1V779.7M260.7 700.1V779.7M390 700.1V779.7M453.5 700.1V779.7M516.9 700.1V779.7" stroke="#7d7d7d" stroke-width="0.9" fill="none"/><path d="M68.2 209H130.6M68.2 228.9H130.6M68.2 298H130.6M68.2 317.9H130.6M68.2 387H130.6M68.2 406.9H130.6M68.2 474.8H130.6M68.2 494.7H130.6M68.2 563.5H130.6M68.2 583.4H130.6M68.2 652.8H130.6M68.2 672.7H130.6M68.2 740.5H130.6M68.2 760.4H130.6" stroke="#858585" stroke-width="0.9" fill="none"/><path d="M63.7 142.6H135.2V248.2H63.7ZM63.7 168.6H135.2M139.8 142.6H321.1V248.2H139.8ZM139.8 168.6H321.1M326.6 142.6H580.3V248.2H326.6ZM326.6 168.6H580.3M63.7 257.6H135.2V337.2H63.7ZM139.8 257.6H321.1V337.2H139.8ZM326.6 257.6H580.3V337.2H326.6ZM63.7 346.6H135.2V426.2H63.7ZM139.8 346.6H321.1V426.2H139.8ZM326.6 346.6H580.3V426.2H326.6ZM63.7 434.4H135.2V514H63.7ZM139.8 434.4H321.1V514H139.8ZM326.6 434.4H580.3V514H326.6ZM63.7 523.1H135.2V602.7H63.7ZM139.8 523.1H321.1V602.7H139.8ZM326.6 523.1H580.3V602.7H326.6ZM63.7 612.4H135.2V692H63.7ZM139.8 612.4H321.1V692H139.8ZM326.6 612.4H580.3V692H326.6ZM63.7 700.1H135.2V779.7H63.7ZM139.8 700.1H321.1V779.7H139.8ZM326.6 700.1H580.3V779.7H326.6Z" stroke="#4a4a4a" stroke-width="1.15" fill="none"/><path d="M135.7 104.8H288" stroke="#555" stroke-width="1" stroke-dasharray="1 1.05" fill="none"/><path transform="translate(530.1 156.2)" d="M0 -3.6C-.95 -5.5 -2.5 -6.15 -3.8 -6.15C-5.6 -6.15 -6.65 -4.7 -6.65 -2.95C-6.65 .7 -2.5 3.2 0 6.15C2.5 3.2 6.65 .7 6.65 -2.95C6.65 -4.7 5.6 -6.15 3.8 -6.15C2.5 -6.15 .95 -5.5 0 -3.6Z" fill="#a97ba7"/></g></svg>
<span class="t ti" style="left:170.66px;top:53.75px;font-size:26.11px;transform:skewX(-3deg) scaleX(0.7486);transform-origin:0 21.8px;-webkit-text-stroke:0.3px;">Blood</span><span class="t ti" style="left:224.09px;top:53.75px;font-size:26.11px;transform:skewX(-3deg) scaleX(0.8576);transform-origin:0 21.8px;-webkit-text-stroke:0.3px;">Sugar</span><span class="t ti" style="left:280.69px;top:53.75px;font-size:26.11px;transform:skewX(-3deg) scaleX(0.7288);transform-origin:0 21.8px;-webkit-text-stroke:0.3px;">&amp;</span><span class="t ti" style="left:301.17px;top:53.75px;font-size:26.11px;transform:skewX(-3deg) scaleX(0.7422);transform-origin:0 21.8px;-webkit-text-stroke:0.3px;">Blood</span><span class="t ti" style="left:355.59px;top:53.75px;font-size:26.11px;transform:skewX(-3deg) scaleX(0.8364);transform-origin:0 21.8px;-webkit-text-stroke:0.3px;">Pressure</span><span class="t ti" style="left:434.86px;top:53.75px;font-size:26.11px;transform:skewX(-3deg) scaleX(0.7563);transform-origin:0 21.8px;-webkit-text-stroke:0.3px;">Log</span><span class="t b" style="left:71.08px;top:95.69px;font-size:12.14px;transform:scaleX(1.1183);-webkit-text-stroke:0.35px;">WEEK OF</span><span class="t b" style="left:190.1px;top:123.58px;font-size:12.75px;transform:scaleX(0.9797);-webkit-text-stroke:0.35px;">BLOOD SUGAR</span><span class="t b" style="left:398.4px;top:123.28px;font-size:12.75px;transform:scaleX(0.9892);-webkit-text-stroke:0.35px;">BLOOD PRESSURE</span><span class="t b" style="left:82.11px;top:151px;font-size:11.53px;transform:scaleX(1.0673);-webkit-text-stroke:0.35px;">DATE</span><span class="t h" style="left:156.07px;top:150.71px;font-size:9.92px;font-weight:700;transform:scaleX(0.8828);">MEAL</span><span class="t h" style="left:210.37px;top:150.71px;font-size:9.92px;font-weight:700;transform:scaleX(0.8869);">BEFORE</span><span class="t h" style="left:272.61px;top:150.71px;font-size:9.92px;font-weight:700;transform:scaleX(0.9020);">AFTER</span><span class="t h" style="left:346.87px;top:151.51px;font-size:9.92px;font-weight:700;transform:scaleX(0.8914);">TIME</span><span class="t h" style="left:398.9px;top:151.51px;font-size:9.92px;font-weight:700;transform:scaleX(0.9174);">SYSTOLIC</span><span class="t h" style="left:458.86px;top:151.51px;font-size:9.92px;font-weight:700;transform:scaleX(0.9153);">DIASTOLIC</span><span class="t h" style="left:543.36px;top:151.51px;font-size:9.92px;font-weight:700;transform:scaleX(0.9446);">RATE</span><span class="t d" style="left:75.53px;top:173.45px;font-size:10.84px;transform:scaleX(0.9692);-webkit-text-stroke:0.3px;">MONDAY</span><span class="t m" style="left:147.06px;top:174.08px;font-size:10.69px;transform:scaleX(0.8901);-webkit-text-stroke:0.3px;">Breakfast</span><span class="t m" style="left:147.05px;top:194.13px;font-size:10.69px;transform:scaleX(0.9506);-webkit-text-stroke:0.3px;">Lunch</span><span class="t m" style="left:147.05px;top:214.18px;font-size:10.69px;transform:scaleX(0.9494);-webkit-text-stroke:0.3px;">Dinner</span><span class="t m" style="left:147.05px;top:234.23px;font-size:10.69px;transform:scaleX(0.9231);-webkit-text-stroke:0.3px;">Bedtime</span><span class="t d" style="left:75.14px;top:263.05px;font-size:10.84px;transform:scaleX(0.9510);-webkit-text-stroke:0.3px;">TUESDAY</span><span class="t m" style="left:147.06px;top:263.68px;font-size:10.69px;transform:scaleX(0.8901);-webkit-text-stroke:0.3px;">Breakfast</span><span class="t m" style="left:147.05px;top:283.73px;font-size:10.69px;transform:scaleX(0.9506);-webkit-text-stroke:0.3px;">Lunch</span><span class="t m" style="left:147.05px;top:303.78px;font-size:10.69px;transform:scaleX(0.9494);-webkit-text-stroke:0.3px;">Dinner</span><span class="t m" style="left:147.05px;top:323.83px;font-size:10.69px;transform:scaleX(0.9231);-webkit-text-stroke:0.3px;">Bedtime</span><span class="t d" style="left:67.35px;top:351.95px;font-size:10.84px;transform:scaleX(0.9307);-webkit-text-stroke:0.3px;">WEDNESDAY</span><span class="t m" style="left:147.06px;top:352.58px;font-size:10.69px;transform:scaleX(0.8901);-webkit-text-stroke:0.3px;">Breakfast</span><span class="t m" style="left:147.05px;top:372.63px;font-size:10.69px;transform:scaleX(0.9506);-webkit-text-stroke:0.3px;">Lunch</span><span class="t m" style="left:147.05px;top:392.68px;font-size:10.69px;transform:scaleX(0.9494);-webkit-text-stroke:0.3px;">Dinner</span><span class="t m" style="left:147.05px;top:412.73px;font-size:10.69px;transform:scaleX(0.9231);-webkit-text-stroke:0.3px;">Bedtime</span><span class="t d" style="left:70.49px;top:440.05px;font-size:10.84px;transform:scaleX(0.9738);-webkit-text-stroke:0.3px;">THURSDAY</span><span class="t m" style="left:147.06px;top:440.68px;font-size:10.69px;transform:scaleX(0.8901);-webkit-text-stroke:0.3px;">Breakfast</span><span class="t m" style="left:147.05px;top:460.73px;font-size:10.69px;transform:scaleX(0.9506);-webkit-text-stroke:0.3px;">Lunch</span><span class="t m" style="left:147.05px;top:480.78px;font-size:10.69px;transform:scaleX(0.9494);-webkit-text-stroke:0.3px;">Dinner</span><span class="t m" style="left:147.05px;top:500.83px;font-size:10.69px;transform:scaleX(0.9231);-webkit-text-stroke:0.3px;">Bedtime</span><span class="t d" style="left:80.09px;top:528.65px;font-size:10.84px;transform:scaleX(0.9445);-webkit-text-stroke:0.3px;">FRIDAY</span><span class="t m" style="left:147.06px;top:529.28px;font-size:10.69px;transform:scaleX(0.8901);-webkit-text-stroke:0.3px;">Breakfast</span><span class="t m" style="left:147.05px;top:549.33px;font-size:10.69px;transform:scaleX(0.9506);-webkit-text-stroke:0.3px;">Lunch</span><span class="t m" style="left:147.05px;top:569.38px;font-size:10.69px;transform:scaleX(0.9494);-webkit-text-stroke:0.3px;">Dinner</span><span class="t m" style="left:147.05px;top:589.43px;font-size:10.69px;transform:scaleX(0.9231);-webkit-text-stroke:0.3px;">Bedtime</span><span class="t d" style="left:70.2px;top:617.05px;font-size:10.84px;transform:scaleX(0.9960);-webkit-text-stroke:0.3px;">SATURDAY</span><span class="t m" style="left:147.06px;top:617.68px;font-size:10.69px;transform:scaleX(0.8901);-webkit-text-stroke:0.3px;">Breakfast</span><span class="t m" style="left:147.05px;top:637.73px;font-size:10.69px;transform:scaleX(0.9506);-webkit-text-stroke:0.3px;">Lunch</span><span class="t m" style="left:147.05px;top:657.78px;font-size:10.69px;transform:scaleX(0.9494);-webkit-text-stroke:0.3px;">Dinner</span><span class="t m" style="left:147.05px;top:677.83px;font-size:10.69px;transform:scaleX(0.9231);-webkit-text-stroke:0.3px;">Bedtime</span><span class="t d" style="left:77.22px;top:705.05px;font-size:10.84px;transform:scaleX(0.9630);-webkit-text-stroke:0.3px;">SUNDAY</span><span class="t m" style="left:147.06px;top:705.68px;font-size:10.69px;transform:scaleX(0.8901);-webkit-text-stroke:0.3px;">Breakfast</span><span class="t m" style="left:147.05px;top:725.73px;font-size:10.69px;transform:scaleX(0.9506);-webkit-text-stroke:0.3px;">Lunch</span><span class="t m" style="left:147.05px;top:745.78px;font-size:10.69px;transform:scaleX(0.9494);-webkit-text-stroke:0.3px;">Dinner</span><span class="t m" style="left:147.05px;top:765.83px;font-size:10.69px;transform:scaleX(0.9231);-webkit-text-stroke:0.3px;">Bedtime</span>
</div>
<div class="page" style="left:962px;top:1394px">
<svg class="pg" width="642" height="832" viewBox="0 0 642 832"><g transform="translate(-0.3 0.7)"><g fill="#efefef"><rect x="63.7" y="142.6" width="71.5" height="26"/><rect x="139.8" y="142.6" width="181.3" height="26"/><rect x="326.6" y="142.6" width="253.7" height="26"/><rect x="139.8" y="168.6" width="60.4" height="79.6"/><rect x="139.8" y="257.6" width="60.4" height="79.6"/><rect x="139.8" y="346.6" width="60.4" height="79.6"/><rect x="139.8" y="434.4" width="60.4" height="79.6"/><rect x="139.8" y="523.1" width="60.4" height="79.6"/><rect x="139.8" y="612.4" width="60.4" height="79.6"/><rect x="139.8" y="700.1" width="60.4" height="79.6"/></g><path d="M139.8 188.5H321.1M326.6 188.5H580.3M139.8 208.4H321.1M326.6 208.4H580.3M139.8 228.3H321.1M326.6 228.3H580.3M200.2 142.6V248.2M260.7 142.6V248.2M390 142.6V248.2M453.5 142.6V248.2M516.9 142.6V248.2M139.8 277.5H321.1M326.6 277.5H580.3M139.8 297.4H321.1M326.6 297.4H580.3M139.8 317.3H321.1M326.6 317.3H580.3M200.2 257.6V337.2M260.7 257.6V337.2M390 257.6V337.2M453.5 257.6V337.2M516.9 257.6V337.2M139.8 366.5H321.1M326.6 366.5H580.3M139.8 386.4H321.1M326.6 386.4H580.3M139.8 406.3H321.1M326.6 406.3H580.3M200.2 346.6V426.2M260.7 346.6V426.2M390 346.6V426.2M453.5 346.6V426.2M516.9 346.6V426.2M139.8 454.3H321.1M326.6 454.3H580.3M139.8 474.2H321.1M326.6 474.2H580.3M139.8 494.1H321.1M326.6 494.1H580.3M200.2 434.4V514M260.7 434.4V514M390 434.4V514M453.5 434.4V514M516.9 434.4V514M139.8 543H321.1M326.6 543H580.3M139.8 562.9H321.1M326.6 562.9H580.3M139.8 582.8H321.1M326.6 582.8H580.3M200.2 523.1V602.7M260.7 523.1V602.7M390 523.1V602.7M453.5 523.1V602.7M516.9 523.1V602.7M139.8 632.3H321.1M326.6 632.3H580.3M139.8 652.2H321.1M326.6 652.2H580.3M139.8 672.1H321.1M326.6 672.1H580.3M200.2 612.4V692M260.7 612.4V692M390 612.4V692M453.5 612.4V692M516.9 612.4V692M139.8 720H321.1M326.6 720H580.3M139.8 739.9H321.1M326.6 739.9H580.3M139.8 759.8H321.1M326.6 759.8H580.3M200.2 700.1V779.7M260.7 700.1V779.7M390 700.1V779.7M453.5 700.1V779.7M516.9 700.1V779.7" stroke="#7d7d7d" stroke-width="0.9" fill="none"/><path d="M68.2 209H130.6M68.2 228.9H130.6M68.2 298H130.6M68.2 317.9H130.6M68.2 387H130.6M68.2 406.9H130.6M68.2 474.8H130.6M68.2 494.7H130.6M68.2 563.5H130.6M68.2 583.4H130.6M68.2 652.8H130.6M68.2 672.7H130.6M68.2 740.5H130.6M68.2 760.4H130.6" stroke="#858585" stroke-width="0.9" fill="none"/><path d="M63.7 142.6H135.2V248.2H63.7ZM63.7 168.6H135.2M139.8 142.6H321.1V248.2H139.8ZM139.8 168.6H321.1M326.6 142.6H580.3V248.2H326.6ZM326.6 168.6H580.3M63.7 257.6H135.2V337.2H63.7ZM139.8 257.6H321.1V337.2H139.8ZM326.6 257.6H580.3V337.2H326.6ZM63.7 346.6H135.2V426.2H63.7ZM139.8 346.6H321.1V426.2H139.8ZM326.6 346.6H580.3V426.2H326.6ZM63.7 434.4H135.2V514H63.7ZM139.8 434.4H321.1V514H139.8ZM326.6 434.4H580.3V514H326.6ZM63.7 523.1H135.2V602.7H63.7ZM139.8 523.1H321.1V602.7H139.8ZM326.6 523.1H580.3V602.7H326.6ZM63.7 612.4H135.2V692H63.7ZM139.8 612.4H321.1V692H139.8ZM326.6 612.4H580.3V692H326.6ZM63.7 700.1H135.2V779.7H63.7ZM139.8 700.1H321.1V779.7H139.8ZM326.6 700.1H580.3V779.7H326.6Z" stroke="#4a4a4a" stroke-width="1.15" fill="none"/><path d="M135.7 104.8H288" stroke="#555" stroke-width="1" stroke-dasharray="1 1.05" fill="none"/><path transform="translate(530.1 156.2)" d="M0 -3.6C-.95 -5.5 -2.5 -6.15 -3.8 -6.15C-5.6 -6.15 -6.65 -4.7 -6.65 -2.95C-6.65 .7 -2.5 3.2 0 6.15C2.5 3.2 6.65 .7 6.65 -2.95C6.65 -4.7 5.6 -6.15 3.8 -6.15C2.5 -6.15 .95 -5.5 0 -3.6Z" fill="#555555"/></g></svg>
<span class="t ti" style="left:170.86px;top:53.75px;font-size:26.11px;transform:skewX(-3deg) scaleX(0.7486);transform-origin:0 21.8px;-webkit-text-stroke:0.3px;">Blood</span><span class="t ti" style="left:224.29px;top:53.75px;font-size:26.11px;transform:skewX(-3deg) scaleX(0.8576);transform-origin:0 21.8px;-webkit-text-stroke:0.3px;">Sugar</span><span class="t ti" style="left:280.89px;top:53.75px;font-size:26.11px;transform:skewX(-3deg) scaleX(0.7288);transform-origin:0 21.8px;-webkit-text-stroke:0.3px;">&amp;</span><span class="t ti" style="left:301.37px;top:53.75px;font-size:26.11px;transform:skewX(-3deg) scaleX(0.7422);transform-origin:0 21.8px;-webkit-text-stroke:0.3px;">Blood</span><span class="t ti" style="left:355.79px;top:53.75px;font-size:26.11px;transform:skewX(-3deg) scaleX(0.8364);transform-origin:0 21.8px;-webkit-text-stroke:0.3px;">Pressure</span><span class="t ti" style="left:435.06px;top:53.75px;font-size:26.11px;transform:skewX(-3deg) scaleX(0.7563);transform-origin:0 21.8px;-webkit-text-stroke:0.3px;">Log</span><span class="t b" style="left:71.28px;top:95.69px;font-size:12.14px;transform:scaleX(1.1183);-webkit-text-stroke:0.35px;">WEEK OF</span><span class="t b" style="left:190.3px;top:123.58px;font-size:12.75px;transform:scaleX(0.9797);-webkit-text-stroke:0.35px;">BLOOD SUGAR</span><span class="t b" style="left:398.6px;top:123.28px;font-size:12.75px;transform:scaleX(0.9892);-webkit-text-stroke:0.35px;">BLOOD PRESSURE</span><span class="t b" style="left:82.31px;top:151px;font-size:11.53px;transform:scaleX(1.0673);-webkit-text-stroke:0.35px;">DATE</span><span class="t h" style="left:156.27px;top:150.71px;font-size:9.92px;font-weight:700;transform:scaleX(0.8828);">MEAL</span><span class="t h" style="left:210.57px;top:150.71px;font-size:9.92px;font-weight:700;transform:scaleX(0.8869);">BEFORE</span><span class="t h" style="left:272.81px;top:150.71px;font-size:9.92px;font-weight:700;transform:scaleX(0.9020);">AFTER</span><span class="t h" style="left:347.07px;top:151.51px;font-size:9.92px;font-weight:700;transform:scaleX(0.8914);">TIME</span><span class="t h" style="left:399.1px;top:151.51px;font-size:9.92px;font-weight:700;transform:scaleX(0.9174);">SYSTOLIC</span><span class="t h" style="left:459.06px;top:151.51px;font-size:9.92px;font-weight:700;transform:scaleX(0.9153);">DIASTOLIC</span><span class="t h" style="left:543.56px;top:151.51px;font-size:9.92px;font-weight:700;transform:scaleX(0.9446);">RATE</span><span class="t d" style="left:75.73px;top:173.45px;font-size:10.84px;transform:scaleX(0.9692);-webkit-text-stroke:0.3px;">MONDAY</span><span class="t m" style="left:147.26px;top:174.08px;font-size:10.69px;transform:scaleX(0.8901);-webkit-text-stroke:0.3px;">Breakfast</span><span class="t m" style="left:147.25px;top:194.13px;font-size:10.69px;transform:scaleX(0.9506);-webkit-text-stroke:0.3px;">Lunch</span><span class="t m" style="left:147.25px;top:214.18px;font-size:10.69px;transform:scaleX(0.9494);-webkit-text-stroke:0.3px;">Dinner</span><span class="t m" style="left:147.25px;top:234.23px;font-size:10.69px;transform:scaleX(0.9231);-webkit-text-stroke:0.3px;">Bedtime</span><span class="t d" style="left:75.34px;top:263.05px;font-size:10.84px;transform:scaleX(0.9510);-webkit-text-stroke:0.3px;">TUESDAY</span><span class="t m" style="left:147.26px;top:263.68px;font-size:10.69px;transform:scaleX(0.8901);-webkit-text-stroke:0.3px;">Breakfast</span><span class="t m" style="left:147.25px;top:283.73px;font-size:10.69px;transform:scaleX(0.9506);-webkit-text-stroke:0.3px;">Lunch</span><span class="t m" style="left:147.25px;top:303.78px;font-size:10.69px;transform:scaleX(0.9494);-webkit-text-stroke:0.3px;">Dinner</span><span class="t m" style="left:147.25px;top:323.83px;font-size:10.69px;transform:scaleX(0.9231);-webkit-text-stroke:0.3px;">Bedtime</span><span class="t d" style="left:67.55px;top:351.95px;font-size:10.84px;transform:scaleX(0.9307);-webkit-text-stroke:0.3px;">WEDNESDAY</span><span class="t m" style="left:147.26px;top:352.58px;font-size:10.69px;transform:scaleX(0.8901);-webkit-text-stroke:0.3px;">Breakfast</span><span class="t m" style="left:147.25px;top:372.63px;font-size:10.69px;transform:scaleX(0.9506);-webkit-text-stroke:0.3px;">Lunch</span><span class="t m" style="left:147.25px;top:392.68px;font-size:10.69px;transform:scaleX(0.9494);-webkit-text-stroke:0.3px;">Dinner</span><span class="t m" style="left:147.25px;top:412.73px;font-size:10.69px;transform:scaleX(0.9231);-webkit-text-stroke:0.3px;">Bedtime</span><span class="t d" style="left:70.69px;top:440.05px;font-size:10.84px;transform:scaleX(0.9738);-webkit-text-stroke:0.3px;">THURSDAY</span><span class="t m" style="left:147.26px;top:440.68px;font-size:10.69px;transform:scaleX(0.8901);-webkit-text-stroke:0.3px;">Breakfast</span><span class="t m" style="left:147.25px;top:460.73px;font-size:10.69px;transform:scaleX(0.9506);-webkit-text-stroke:0.3px;">Lunch</span><span class="t m" style="left:147.25px;top:480.78px;font-size:10.69px;transform:scaleX(0.9494);-webkit-text-stroke:0.3px;">Dinner</span><span class="t m" style="left:147.25px;top:500.83px;font-size:10.69px;transform:scaleX(0.9231);-webkit-text-stroke:0.3px;">Bedtime</span><span class="t d" style="left:80.29px;top:528.65px;font-size:10.84px;transform:scaleX(0.9445);-webkit-text-stroke:0.3px;">FRIDAY</span><span class="t m" style="left:147.26px;top:529.28px;font-size:10.69px;transform:scaleX(0.8901);-webkit-text-stroke:0.3px;">Breakfast</span><span class="t m" style="left:147.25px;top:549.33px;font-size:10.69px;transform:scaleX(0.9506);-webkit-text-stroke:0.3px;">Lunch</span><span class="t m" style="left:147.25px;top:569.38px;font-size:10.69px;transform:scaleX(0.9494);-webkit-text-stroke:0.3px;">Dinner</span><span class="t m" style="left:147.25px;top:589.43px;font-size:10.69px;transform:scaleX(0.9231);-webkit-text-stroke:0.3px;">Bedtime</span><span class="t d" style="left:70.4px;top:617.05px;font-size:10.84px;transform:scaleX(0.9960);-webkit-text-stroke:0.3px;">SATURDAY</span><span class="t m" style="left:147.26px;top:617.68px;font-size:10.69px;transform:scaleX(0.8901);-webkit-text-stroke:0.3px;">Breakfast</span><span class="t m" style="left:147.25px;top:637.73px;font-size:10.69px;transform:scaleX(0.9506);-webkit-text-stroke:0.3px;">Lunch</span><span class="t m" style="left:147.25px;top:657.78px;font-size:10.69px;transform:scaleX(0.9494);-webkit-text-stroke:0.3px;">Dinner</span><span class="t m" style="left:147.25px;top:677.83px;font-size:10.69px;transform:scaleX(0.9231);-webkit-text-stroke:0.3px;">Bedtime</span><span class="t d" style="left:77.42px;top:705.05px;font-size:10.84px;transform:scaleX(0.9630);-webkit-text-stroke:0.3px;">SUNDAY</span><span class="t m" style="left:147.26px;top:705.68px;font-size:10.69px;transform:scaleX(0.8901);-webkit-text-stroke:0.3px;">Breakfast</span><span class="t m" style="left:147.25px;top:725.73px;font-size:10.69px;transform:scaleX(0.9506);-webkit-text-stroke:0.3px;">Lunch</span><span class="t m" style="left:147.25px;top:745.78px;font-size:10.69px;transform:scaleX(0.9494);-webkit-text-stroke:0.3px;">Dinner</span><span class="t m" style="left:147.25px;top:765.83px;font-size:10.69px;transform:scaleX(0.9231);-webkit-text-stroke:0.3px;">Bedtime</span>
</div>
<div class="page" style="left:1714px;top:1394px;width:643px">
<svg class="pg" width="642" height="832" viewBox="0 0 642 832"><g transform="translate(0.3 0.7)"><path d="M139.8 188.5H321.1M326.6 188.5H580.3M139.8 208.4H321.1M326.6 208.4H580.3M139.8 228.3H321.1M326.6 228.3H580.3M200.2 142.6V248.2M260.7 142.6V248.2M390 142.6V248.2M453.5 142.6V248.2M516.9 142.6V248.2M139.8 277.5H321.1M326.6 277.5H580.3M139.8 297.4H321.1M326.6 297.4H580.3M139.8 317.3H321.1M326.6 317.3H580.3M200.2 257.6V337.2M260.7 257.6V337.2M390 257.6V337.2M453.5 257.6V337.2M516.9 257.6V337.2M139.8 366.5H321.1M326.6 366.5H580.3M139.8 386.4H321.1M326.6 386.4H580.3M139.8 406.3H321.1M326.6 406.3H580.3M200.2 346.6V426.2M260.7 346.6V426.2M390 346.6V426.2M453.5 346.6V426.2M516.9 346.6V426.2M139.8 454.3H321.1M326.6 454.3H580.3M139.8 474.2H321.1M326.6 474.2H580.3M139.8 494.1H321.1M326.6 494.1H580.3M200.2 434.4V514M260.7 434.4V514M390 434.4V514M453.5 434.4V514M516.9 434.4V514M139.8 543H321.1M326.6 543H580.3M139.8 562.9H321.1M326.6 562.9H580.3M139.8 582.8H321.1M326.6 582.8H580.3M200.2 523.1V602.7M260.7 523.1V602.7M390 523.1V602.7M453.5 523.1V602.7M516.9 523.1V602.7M139.8 632.3H321.1M326.6 632.3H580.3M139.8 652.2H321.1M326.6 652.2H580.3M139.8 672.1H321.1M326.6 672.1H580.3M200.2 612.4V692M260.7 612.4V692M390 612.4V692M453.5 612.4V692M516.9 612.4V692M139.8 720H321.1M326.6 720H580.3M139.8 739.9H321.1M326.6 739.9H580.3M139.8 759.8H321.1M326.6 759.8H580.3M200.2 700.1V779.7M260.7 700.1V779.7M390 700.1V779.7M453.5 700.1V779.7M516.9 700.1V779.7" stroke="#7d7d7d" stroke-width="0.9" fill="none"/><path d="M68.2 209H130.6M68.2 228.9H130.6M68.2 298H130.6M68.2 317.9H130.6M68.2 387H130.6M68.2 406.9H130.6M68.2 474.8H130.6M68.2 494.7H130.6M68.2 563.5H130.6M68.2 583.4H130.6M68.2 652.8H130.6M68.2 672.7H130.6M68.2 740.5H130.6M68.2 760.4H130.6" stroke="#858585" stroke-width="0.9" fill="none"/><path d="M63.7 142.6H135.2V248.2H63.7ZM63.7 168.6H135.2M139.8 142.6H321.1V248.2H139.8ZM139.8 168.6H321.1M326.6 142.6H580.3V248.2H326.6ZM326.6 168.6H580.3M63.7 257.6H135.2V337.2H63.7ZM139.8 257.6H321.1V337.2H139.8ZM326.6 257.6H580.3V337.2H326.6ZM63.7 346.6H135.2V426.2H63.7ZM139.8 346.6H321.1V426.2H139.8ZM326.6 346.6H580.3V426.2H326.6ZM63.7 434.4H135.2V514H63.7ZM139.8 434.4H321.1V514H139.8ZM326.6 434.4H580.3V514H326.6ZM63.7 523.1H135.2V602.7H63.7ZM139.8 523.1H321.1V602.7H139.8ZM326.6 523.1H580.3V602.7H326.6ZM63.7 612.4H135.2V692H63.7ZM139.8 612.4H321.1V692H139.8ZM326.6 612.4H580.3V692H326.6ZM63.7 700.1H135.2V779.7H63.7ZM139.8 700.1H321.1V779.7H139.8ZM326.6 700.1H580.3V779.7H326.6Z" stroke="#4a4a4a" stroke-width="1.15" fill="none"/><path d="M135.7 104.8H288" stroke="#555" stroke-width="1" stroke-dasharray="1 1.05" fill="none"/><path transform="translate(530.1 156.7)" d="M0 -3.9C-.9 -5.6 -2.4 -6.5 -3.9 -6.5C-5.8 -6.5 -6.95 -4.9 -6.95 -3.1C-6.95 .9 -2.8 3.5 0 6.5C2.8 3.5 6.95 .9 6.95 -3.1C6.95 -4.9 5.8 -6.5 3.9 -6.5C2.4 -6.5 .9 -5.6 0 -3.9Z" fill="none" stroke="#666666" stroke-width="1"/></g></svg>
<span class="t ti" style="left:171.46px;top:53.75px;font-size:26.11px;transform:skewX(-3deg) scaleX(0.7486);transform-origin:0 21.8px;-webkit-text-stroke:0.3px;">Blood</span><span class="t ti" style="left:224.89px;top:53.75px;font-size:26.11px;transform:skewX(-3deg) scaleX(0.8576);transform-origin:0 21.8px;-webkit-text-stroke:0.3px;">Sugar</span><span class="t ti" style="left:281.49px;top:53.75px;font-size:26.11px;transform:skewX(-3deg) scaleX(0.7288);transform-origin:0 21.8px;-webkit-text-stroke:0.3px;">&amp;</span><span class="t ti" style="left:301.97px;top:53.75px;font-size:26.11px;transform:skewX(-3deg) scaleX(0.7422);transform-origin:0 21.8px;-webkit-text-stroke:0.3px;">Blood</span><span class="t ti" style="left:356.39px;top:53.75px;font-size:26.11px;transform:skewX(-3deg) scaleX(0.8364);transform-origin:0 21.8px;-webkit-text-stroke:0.3px;">Pressure</span><span class="t ti" style="left:435.66px;top:53.75px;font-size:26.11px;transform:skewX(-3deg) scaleX(0.7563);transform-origin:0 21.8px;-webkit-text-stroke:0.3px;">Log</span><span class="t b" style="left:71.88px;top:95.69px;font-size:12.14px;transform:scaleX(1.1183);-webkit-text-stroke:0.35px;">WEEK OF</span><span class="t b" style="left:190.9px;top:123.58px;font-size:12.75px;transform:scaleX(0.9797);-webkit-text-stroke:0.35px;">BLOOD SUGAR</span><span class="t b" style="left:399.2px;top:123.28px;font-size:12.75px;transform:scaleX(0.9892);-webkit-text-stroke:0.35px;">BLOOD PRESSURE</span><span class="t b" style="left:82.91px;top:151px;font-size:11.53px;transform:scaleX(1.0673);-webkit-text-stroke:0.35px;">DATE</span><span class="t h" style="left:156.87px;top:150.71px;font-size:9.92px;font-weight:700;transform:scaleX(0.8828);">MEAL</span><span class="t h" style="left:211.17px;top:150.71px;font-size:9.92px;font-weight:700;transform:scaleX(0.8869);">BEFORE</span><span class="t h" style="left:273.41px;top:150.71px;font-size:9.92px;font-weight:700;transform:scaleX(0.9020);">AFTER</span><span class="t h" style="left:347.67px;top:151.51px;font-size:9.92px;font-weight:700;transform:scaleX(0.8914);">TIME</span><span class="t h" style="left:399.7px;top:151.51px;font-size:9.92px;font-weight:700;transform:scaleX(0.9174);">SYSTOLIC</span><span class="t h" style="left:459.66px;top:151.51px;font-size:9.92px;font-weight:700;transform:scaleX(0.9153);">DIASTOLIC</span><span class="t h" style="left:544.16px;top:151.51px;font-size:9.92px;font-weight:700;transform:scaleX(0.9446);">RATE</span><span class="t d" style="left:76.33px;top:173.45px;font-size:10.84px;transform:scaleX(0.9692);-webkit-text-stroke:0.3px;">MONDAY</span><span class="t m" style="left:147.86px;top:174.08px;font-size:10.69px;transform:scaleX(0.8901);-webkit-text-stroke:0.3px;">Breakfast</span><span class="t m" style="left:147.85px;top:194.13px;font-size:10.69px;transform:scaleX(0.9506);-webkit-text-stroke:0.3px;">Lunch</span><span class="t m" style="left:147.85px;top:214.18px;font-size:10.69px;transform:scaleX(0.9494);-webkit-text-stroke:0.3px;">Dinner</span><span class="t m" style="left:147.85px;top:234.23px;font-size:10.69px;transform:scaleX(0.9231);-webkit-text-stroke:0.3px;">Bedtime</span><span class="t d" style="left:75.94px;top:263.05px;font-size:10.84px;transform:scaleX(0.9510);-webkit-text-stroke:0.3px;">TUESDAY</span><span class="t m" style="left:147.86px;top:263.68px;font-size:10.69px;transform:scaleX(0.8901);-webkit-text-stroke:0.3px;">Breakfast</span><span class="t m" style="left:147.85px;top:283.73px;font-size:10.69px;transform:scaleX(0.9506);-webkit-text-stroke:0.3px;">Lunch</span><span class="t m" style="left:147.85px;top:303.78px;font-size:10.69px;transform:scaleX(0.9494);-webkit-text-stroke:0.3px;">Dinner</span><span class="t m" style="left:147.85px;top:323.83px;font-size:10.69px;transform:scaleX(0.9231);-webkit-text-stroke:0.3px;">Bedtime</span><span class="t d" style="left:68.15px;top:351.95px;font-size:10.84px;transform:scaleX(0.9307);-webkit-text-stroke:0.3px;">WEDNESDAY</span><span class="t m" style="left:147.86px;top:352.58px;font-size:10.69px;transform:scaleX(0.8901);-webkit-text-stroke:0.3px;">Breakfast</span><span class="t m" style="left:147.85px;top:372.63px;font-size:10.69px;transform:scaleX(0.9506);-webkit-text-stroke:0.3px;">Lunch</span><span class="t m" style="left:147.85px;top:392.68px;font-size:10.69px;transform:scaleX(0.9494);-webkit-text-stroke:0.3px;">Dinner</span><span class="t m" style="left:147.85px;top:412.73px;font-size:10.69px;transform:scaleX(0.9231);-webkit-text-stroke:0.3px;">Bedtime</span><span class="t d" style="left:71.29px;top:440.05px;font-size:10.84px;transform:scaleX(0.9738);-webkit-text-stroke:0.3px;">THURSDAY</span><span class="t m" style="left:147.86px;top:440.68px;font-size:10.69px;transform:scaleX(0.8901);-webkit-text-stroke:0.3px;">Breakfast</span><span class="t m" style="left:147.85px;top:460.73px;font-size:10.69px;transform:scaleX(0.9506);-webkit-text-stroke:0.3px;">Lunch</span><span class="t m" style="left:147.85px;top:480.78px;font-size:10.69px;transform:scaleX(0.9494);-webkit-text-stroke:0.3px;">Dinner</span><span class="t m" style="left:147.85px;top:500.83px;font-size:10.69px;transform:scaleX(0.9231);-webkit-text-stroke:0.3px;">Bedtime</span><span class="t d" style="left:80.89px;top:528.65px;font-size:10.84px;transform:scaleX(0.9445);-webkit-text-stroke:0.3px;">FRIDAY</span><span class="t m" style="left:147.86px;top:529.28px;font-size:10.69px;transform:scaleX(0.8901);-webkit-text-stroke:0.3px;">Breakfast</span><span class="t m" style="left:147.85px;top:549.33px;font-size:10.69px;transform:scaleX(0.9506);-webkit-text-stroke:0.3px;">Lunch</span><span class="t m" style="left:147.85px;top:569.38px;font-size:10.69px;transform:scaleX(0.9494);-webkit-text-stroke:0.3px;">Dinner</span><span class="t m" style="left:147.85px;top:589.43px;font-size:10.69px;transform:scaleX(0.9231);-webkit-text-stroke:0.3px;">Bedtime</span><span class="t d" style="left:71px;top:617.05px;font-size:10.84px;transform:scaleX(0.9960);-webkit-text-stroke:0.3px;">SATURDAY</span><span class="t m" style="left:147.86px;top:617.68px;font-size:10.69px;transform:scaleX(0.8901);-webkit-text-stroke:0.3px;">Breakfast</span><span class="t m" style="left:147.85px;top:637.73px;font-size:10.69px;transform:scaleX(0.9506);-webkit-text-stroke:0.3px;">Lunch</span><span class="t m" style="left:147.85px;top:657.78px;font-size:10.69px;transform:scaleX(0.9494);-webkit-text-stroke:0.3px;">Dinner</span><span class="t m" style="left:147.85px;top:677.83px;font-size:10.69px;transform:scaleX(0.9231);-webkit-text-stroke:0.3px;">Bedtime</span><span class="t d" style="left:78.02px;top:705.05px;font-size:10.84px;transform:scaleX(0.9630);-webkit-text-stroke:0.3px;">SUNDAY</span><span class="t m" style="left:147.86px;top:705.68px;font-size:10.69px;transform:scaleX(0.8901);-webkit-text-stroke:0.3px;">Breakfast</span><span class="t m" style="left:147.85px;top:725.73px;font-size:10.69px;transform:scaleX(0.9506);-webkit-text-stroke:0.3px;">Lunch</span><span class="t m" style="left:147.85px;top:745.78px;font-size:10.69px;transform:scaleX(0.9494);-webkit-text-stroke:0.3px;">Dinner</span><span class="t m" style="left:147.85px;top:765.83px;font-size:10.69px;transform:scaleX(0.9231);-webkit-text-stroke:0.3px;">Bedtime</span>
</div>
</body></html>
